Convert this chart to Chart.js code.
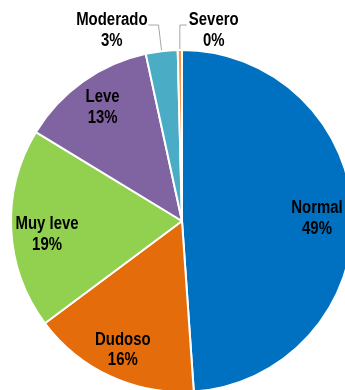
<!DOCTYPE html>
<html>
<head>
<meta charset="utf-8">
<script src="https://cdn.jsdelivr.net/npm/chart.js@4"></script>
<style>
  html, body { margin: 0; padding: 0; background: #fff; overflow: hidden; }
  #wrap { position: relative; width: 345px; height: 390px; overflow: hidden; }
  #myChart { position: absolute; left: 0; top: 0; }
</style>
</head>
<body>
<div id="wrap"><canvas id="myChart" width="400" height="420"></canvas></div>
<script>
const categories = ["Normal", "Dudoso", "Muy leve", "Leve", "Moderado", "Severo"];
const values = [48.9, 15.9, 18.9, 12.9, 3.0, 0.4];
const percentLabels = ["49%", "16%", "19%", "13%", "3%", "0%"];
const colors = ["#0070C0", "#E46C0A", "#92D050", "#8064A2", "#4BACC6", "#F79646"];

// label placement (radius fraction + small vertical nudge), like excel's best fit
const labelRadius = [0.79, 0.83, 0.79, 0.8];
const labelNudge = [2, 0, 7, -2];

const labelFont = 'bold 18px "Liberation Sans", Arial, sans-serif';
const narrow = 0.83; // squeeze to look like arial narrow
const lineGap = 20.5;

function drawText(ctx, text, x, y) {
  ctx.save();
  ctx.translate(x, y);
  ctx.scale(narrow, 1);
  ctx.fillText(text, 0, 0);
  ctx.restore();
}

const pieLabels = {
  id: "pieLabels",
  afterDraw(chart) {
    const ctx = chart.ctx;
    const arcs = chart.getDatasetMeta(0).data;
    ctx.save();
    ctx.font = labelFont;
    ctx.fillStyle = "#000";
    ctx.textAlign = "center";
    ctx.textBaseline = "middle";
    arcs.forEach((arc, i) => {
      const mid = (arc.startAngle + arc.endAngle) / 2;
      const r = arc.outerRadius;
      const lines = [categories[i], percentLabels[i]];
      if (values[i] >= 5) {
        const x = arc.x + Math.cos(mid) * r * labelRadius[i];
        const y = arc.y + Math.sin(mid) * r * labelRadius[i] + labelNudge[i];
        drawText(ctx, lines[0], x, y - lineGap / 2);
        drawText(ctx, lines[1], x, y + lineGap / 2);
        return;
      }
      // small slice: label above the pie with a leader line
      const px = arc.x + Math.cos(mid) * (r + 1);
      const py = arc.y + Math.sin(mid) * (r + 1);
      const left = i === 4;
      const elbowY = arc.y - r - 25;
      const elbowX = left ? px - 3 : px;
      const endX = left ? elbowX - 10 : elbowX + 7;
      const w = Math.max(ctx.measureText(lines[0]).width, ctx.measureText(lines[1]).width) * narrow;
      const cx = left ? endX - 1 - w / 2 : endX + 2 + w / 2;
      ctx.strokeStyle = "#A6A6A6";
      ctx.lineWidth = 1;
      ctx.beginPath();
      ctx.moveTo(px, py);
      ctx.lineTo(elbowX, elbowY);
      ctx.lineTo(endX, elbowY);
      ctx.stroke();
      drawText(ctx, lines[0], cx, elbowY - 4.5);
      drawText(ctx, lines[1], cx, elbowY - 4.5 + lineGap);
    });
    ctx.restore();
  }
};

const chartDOM = document.getElementById("myChart");
const myChart = new Chart(chartDOM, {
  type: "pie",
  data: {
    labels: categories,
    datasets: [{
      data: values,
      backgroundColor: colors,
      borderColor: "#fff",
      borderWidth: 2
    }]
  },
  options: {
    responsive: false,
    animation: false,
    layout: { padding: { left: 10, top: 49, right: 46, bottom: 27 } },
    plugins: { legend: { display: false }, tooltip: { enabled: false } }
  },
  plugins: [pieLabels]
});
</script>
</body>
</html>
